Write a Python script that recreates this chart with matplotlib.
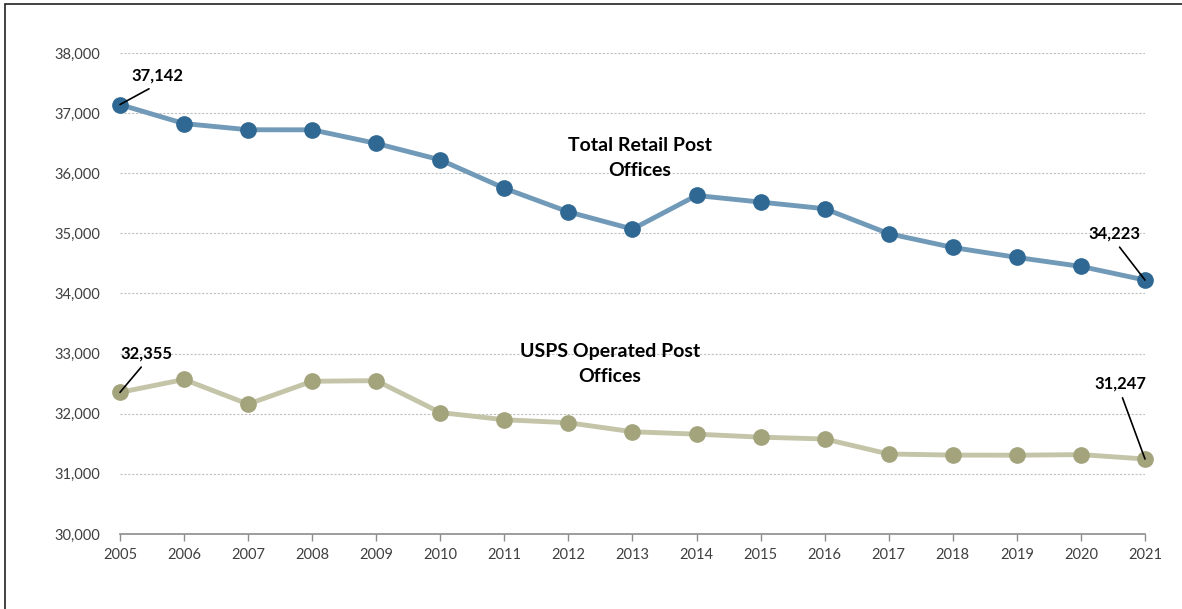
import matplotlib
matplotlib.use("Agg")
import matplotlib.pyplot as plt
from matplotlib.patches import Rectangle

years = list(range(2005, 2022))
total_retail = [37142, 36826, 36723, 36722, 36496, 36222, 35750, 35357, 35071,
                35630, 35520, 35410, 34995, 34765, 34600, 34450, 34223]
usps_operated = [32355, 32570, 32160, 32540, 32550, 32020, 31900, 31850, 31700,
                 31660, 31610, 31580, 31330, 31312, 31310, 31320, 31247]
y_ticks = [30000, 31000, 32000, 33000, 34000, 35000, 36000, 37000, 38000]

plt.rcParams['font.family'] = ['Lato', 'DejaVu Sans']

fig = plt.figure(figsize=(11.82, 6.09), dpi=100)
ax = fig.add_axes([0.1015, 0.1232, 0.9687 - 0.1015, 0.913 - 0.1232])

# figure frame (left/top visible)
fig.patches.append(Rectangle((0.0045, -0.05), 1.2, 1.043, transform=fig.transFigure,
                             fill=False, edgecolor='#222222', linewidth=1.2))

blue_line = '#7199b8'
blue_mark = '#2f6892'
olive_line = '#c4c4a8'
olive_mark = '#a3a37c'

ax.plot(years, total_retail, color=blue_line, linewidth=3.5, zorder=3, clip_on=False)
ax.plot(years, total_retail, linestyle='none', marker='o', markersize=11,
        color=blue_mark, zorder=4, clip_on=False)
ax.plot(years, usps_operated, color=olive_line, linewidth=3.5, zorder=3, clip_on=False)
ax.plot(years, usps_operated, linestyle='none', marker='o', markersize=11,
        color=olive_mark, zorder=4, clip_on=False)

ax.set_xlim(2005, 2021)
ax.set_ylim(30000, 38000)
ax.set_yticks(y_ticks)
ax.set_yticklabels([f"{v:,}" for v in y_ticks])
ax.set_xticks(years)
ax.set_xticklabels([str(y) for y in years])

ax.grid(axis='y', color='#bfbfbf', linestyle=(0, (2, 1.5)), linewidth=0.8, zorder=0)
for s in ['left', 'right', 'top']:
    ax.spines[s].set_visible(False)
ax.spines['bottom'].set_color('#8c8c8c')
ax.spines['bottom'].set_linewidth(1.2)
ax.tick_params(axis='y', length=0, pad=14, labelsize=10.5, labelcolor='#404040')
ax.tick_params(axis='x', length=5, width=1, color='#8c8c8c', pad=5,
               labelsize=10.5, labelcolor='#404040')
ax.set_axisbelow(True)

ann_kw = dict(fontsize=12, fontweight='bold', color='black', ha='center', va='center',
              zorder=6)
arrow = dict(arrowstyle='-', color='black', linewidth=1.2, relpos=(0.5, 0.0),
             shrinkA=3, shrinkB=0)

ax.annotate(f"{total_retail[0]:,}", xy=(years[0], total_retail[0]),
            xytext=(2005.59, 37617), arrowprops=arrow, annotation_clip=False, **ann_kw)
ax.annotate(f"{total_retail[-1]:,}", xy=(years[-1], total_retail[-1]),
            xytext=(2020.53, 35005), arrowprops=arrow, annotation_clip=False, **ann_kw)
ax.annotate(f"{usps_operated[0]:,}", xy=(years[0], usps_operated[0]),
            xytext=(2005.41, 33008), arrowprops=arrow, annotation_clip=False, **ann_kw)
ax.annotate(f"{usps_operated[-1]:,}", xy=(years[-1], usps_operated[-1]),
            xytext=(2020.61, 32509), arrowprops=arrow, annotation_clip=False, **ann_kw)

ax.text(2013.12, 36253, "Total Retail Post\nOffices", fontsize=14, fontweight='bold',
        ha='center', va='center', linespacing=1.55, zorder=6)
ax.text(2012.65, 32825, "USPS Operated Post\nOffices", fontsize=14, fontweight='bold',
        ha='center', va='center', linespacing=1.55, zorder=6)

fig.savefig("out.png", dpi=100)
